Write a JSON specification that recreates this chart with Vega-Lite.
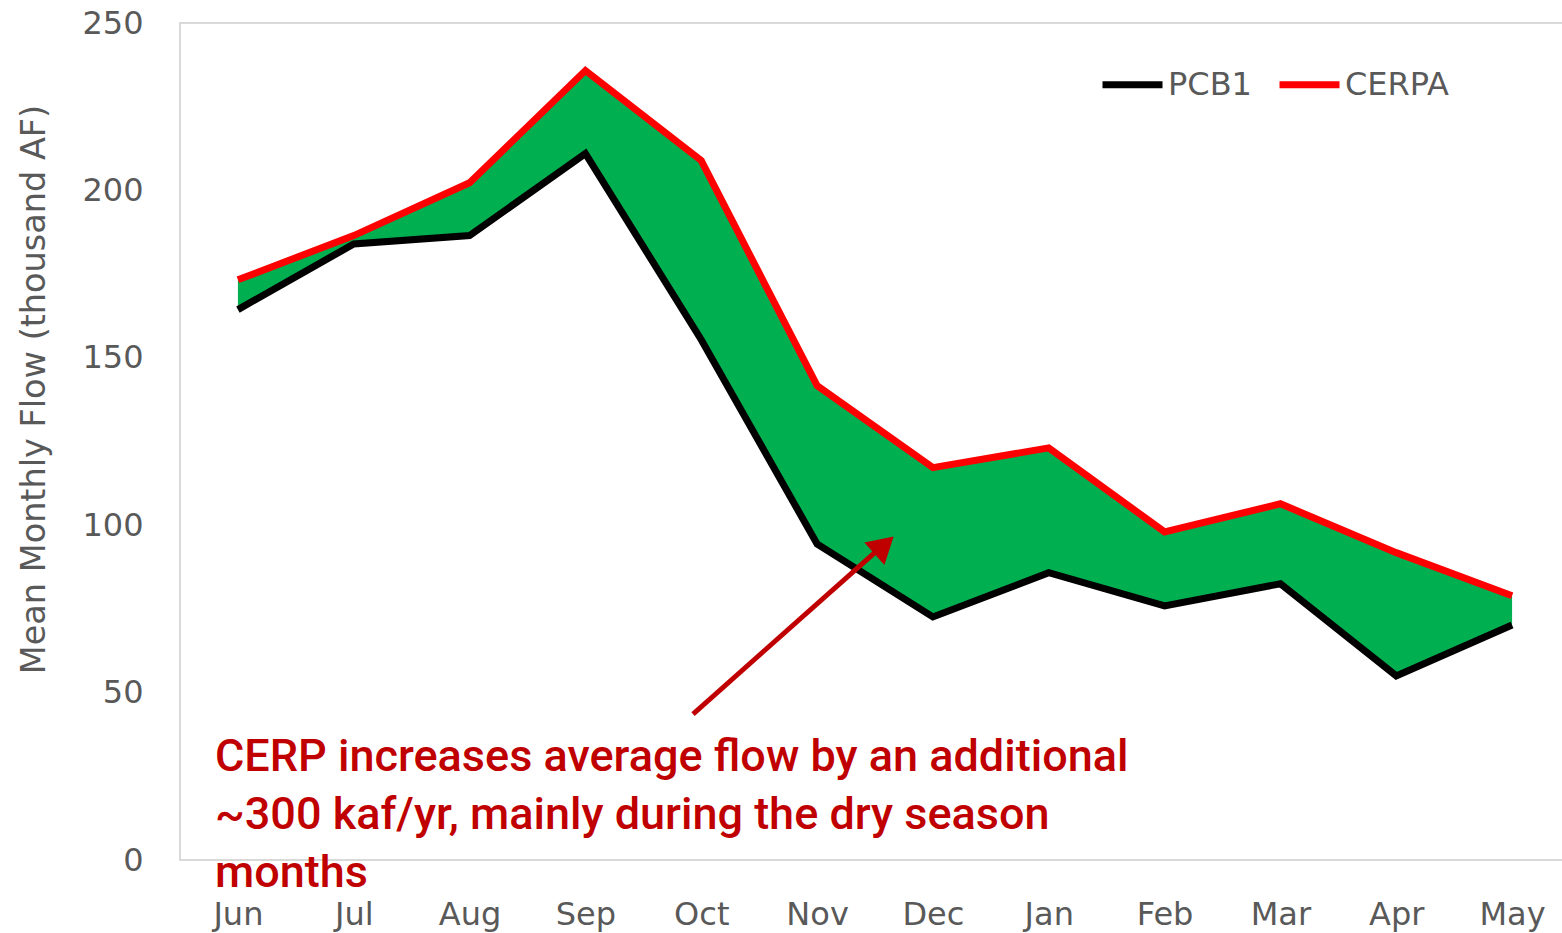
{
  "$schema": "https://vega.github.io/schema/vega-lite/v6.json",
  "width": 1390,
  "height": 837,
  "autosize": {"type": "none"},
  "padding": {"left": 180, "top": 23, "right": 0, "bottom": 73},
  "config": {
    "view": {"stroke": "#d9d9d9", "strokeWidth": 2},
    "font": "DejaVu Sans",
    "axis": {"grid": false, "domain": false, "ticks": false, "labelColor": "#595959", "titleColor": "#595959", "labelFontSize": 32, "titleFontSize": 33.5, "titleFontWeight": "normal", "labelFont": "DejaVu Sans", "titleFont": "DejaVu Sans"}
  },
  "datasets": {
    "flow": [
      {"idx": 0, "month": "Jun", "PCB1": 164.4, "CERPA": 173.3},
      {"idx": 1, "month": "Jul", "PCB1": 184.0, "CERPA": 186.5},
      {"idx": 2, "month": "Aug", "PCB1": 186.5, "CERPA": 202.3},
      {"idx": 3, "month": "Sep", "PCB1": 211.0, "CERPA": 235.8},
      {"idx": 4, "month": "Oct", "PCB1": 155.4, "CERPA": 208.9},
      {"idx": 5, "month": "Nov", "PCB1": 94.4, "CERPA": 141.7},
      {"idx": 6, "month": "Dec", "PCB1": 72.6, "CERPA": 117.2},
      {"idx": 7, "month": "Jan", "PCB1": 85.8, "CERPA": 123.1},
      {"idx": 8, "month": "Feb", "PCB1": 75.9, "CERPA": 98.0},
      {"idx": 9, "month": "Mar", "PCB1": 82.5, "CERPA": 106.4},
      {"idx": 10, "month": "Apr", "PCB1": 55.0, "CERPA": 91.8},
      {"idx": 11, "month": "May", "PCB1": 70.2, "CERPA": 78.9}
    ],
    "arrow": [{"x1": 3.929, "y1": 43.6, "x2": 5.52, "y2": 92.5, "tx": 5.55, "ty": 93.2}],
    "note": [{"x": -0.198, "y": 30.8, "label": ["CERP increases average flow by an additional", "~300 kaf/yr, mainly during the dry season", "months"]}]
  },
  "layer": [
    {
      "data": {"name": "flow"},
      "mark": {"type": "area", "color": "#00B050", "opacity": 1},
      "encoding": {
        "x": {"field": "idx", "type": "quantitative", "scale": {"domain": [-0.5, 11.5], "nice": false, "zero": false},
              "axis": {"values": [0,1,2,3,4,5,6,7,8,9,10,11], "title": null, "labelPadding": 39,
                       "labelExpr": "['Jun','Jul','Aug','Sep','Oct','Nov','Dec','Jan','Feb','Mar','Apr','May'][datum.value]"}},
        "y": {"field": "PCB1", "type": "quantitative", "scale": {"domain": [0, 250], "nice": false},
              "axis": {"values": [0, 50, 100, 150, 200, 250], "title": "Mean Monthly Flow (thousand AF)", "labelPadding": 37, "titlePadding": 30, "titleY": 366, "titleAlign": "center"}},
        "y2": {"field": "CERPA"}
      }
    },
    {
      "data": {"name": "flow"},
      "transform": [{"fold": ["PCB1", "CERPA"], "as": ["series", "value"]}],
      "mark": {"type": "line", "strokeWidth": 7, "strokeJoin": "miter"},
      "encoding": {
        "x": {"field": "idx", "type": "quantitative"},
        "y": {"field": "value", "type": "quantitative"},
        "color": {"field": "series", "type": "nominal",
                  "scale": {"domain": ["PCB1", "CERPA"], "range": ["#000000", "#FF0000"]},
                  "legend": {"title": null, "orient": "none", "direction": "horizontal", "legendX": 919, "legendY": 28,
                             "symbolType": "stroke", "symbolSize": 3600, "symbolStrokeWidth": 7, "labelFontSize": 32,
                             "labelColor": "#595959", "labelFont": "DejaVu Sans", "columnPadding": 13, "labelOffset": 2}}
      }
    },
    {
      "data": {"name": "arrow"},
      "mark": {"type": "rule", "color": "#C00000", "strokeWidth": 5},
      "encoding": {
        "x": {"field": "x1", "type": "quantitative"},
        "y": {"field": "y1", "type": "quantitative"},
        "x2": {"field": "x2"},
        "y2": {"field": "y2"}
      }
    },
    {
      "data": {"name": "arrow"},
      "mark": {"type": "point", "shape": "triangle", "filled": true, "color": "#C00000", "opacity": 1, "size": 900, "angle": 48},
      "encoding": {
        "x": {"field": "tx", "type": "quantitative"},
        "y": {"field": "ty", "type": "quantitative"}
      }
    },
    {
      "data": {"name": "note"},
      "mark": {"type": "text", "align": "left", "baseline": "middle", "color": "#C00000", "fontSize": 45, "fontWeight": 500, "lineHeight": 58, "font": "Roboto", "clip": false},
      "encoding": {
        "x": {"field": "x", "type": "quantitative"},
        "y": {"field": "y", "type": "quantitative"},
        "text": {"field": "label"}
      }
    }
  ]
}
